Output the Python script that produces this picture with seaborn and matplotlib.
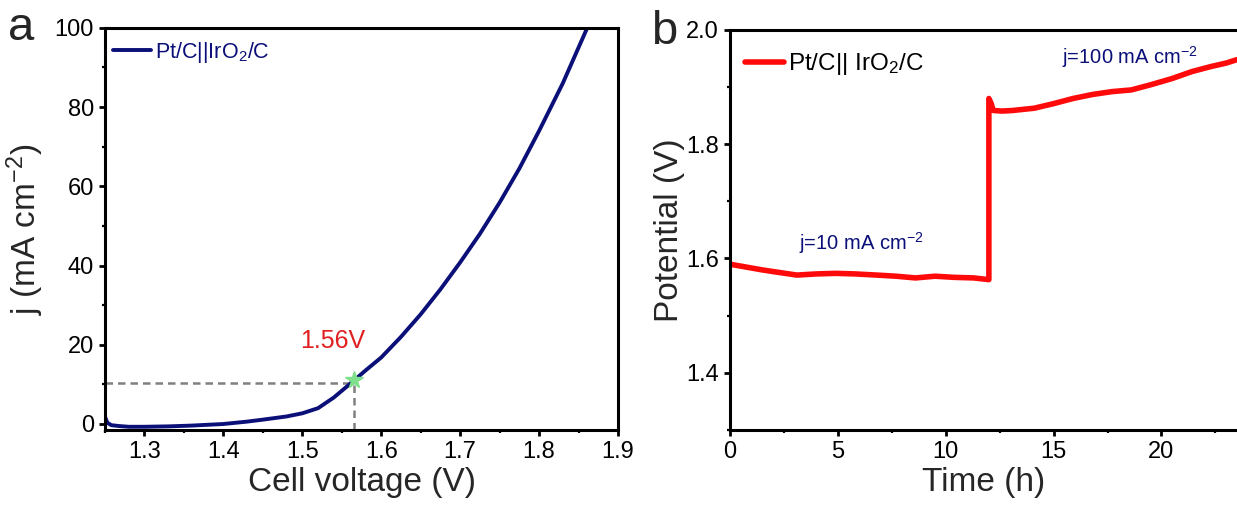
import matplotlib
matplotlib.use("Agg")
import matplotlib.pyplot as plt
import seaborn as sns
import pandas as pd
from matplotlib.ticker import MultipleLocator, FormatStrFormatter

# Polarization curve of the two-electrode cell (voltage in V, current density in mA cm^-2)
cell_voltage = [1.250, 1.253, 1.258, 1.267, 1.28, 1.30, 1.33, 1.36, 1.40, 1.43, 1.45, 1.48,
                1.50, 1.52, 1.54, 1.565, 1.58, 1.60, 1.625, 1.65, 1.675, 1.70, 1.725, 1.75,
                1.775, 1.80, 1.83, 1.861]
current_density = [1.8, 0.3, -0.3, -0.5, -0.7, -0.7, -0.6, -0.4, 0.0, 0.6, 1.1, 1.9,
                   2.7, 4.0, 6.7, 10.9, 13.5, 16.8, 22.0, 27.7, 34.0, 40.8, 48.0, 55.9,
                   64.5, 74.0, 86.0, 100.0]

# Marked operating point at 10 mA cm^-2
onset_voltage = 1.565
onset_current = 10.3
onset_label = "1.56V"

# Chronopotentiometry at 10 and 100 mA cm^-2 (time in h, potential in V)
time_h = [0.0, 0.3, 0.9, 1.5, 2.2, 3.1, 4.0, 4.9, 5.8, 6.8, 7.7, 8.6, 9.5, 10.4, 11.3, 12.0,
          12.0, 12.1, 12.2, 12.6, 13.1, 14.1, 15.0, 15.9, 16.8, 17.7, 18.6, 19.5, 20.5,
          21.4, 22.3, 23.0, 23.5]
potential_v = [1.590, 1.588, 1.584, 1.580, 1.576, 1.571, 1.573, 1.574, 1.573, 1.571, 1.569,
               1.566, 1.569, 1.567, 1.566, 1.563,
               1.880, 1.872, 1.859, 1.858, 1.859, 1.863, 1.871, 1.880, 1.887, 1.892, 1.895,
               1.904, 1.915, 1.927, 1.936, 1.942, 1.948]

series_a = "Pt/C||IrO$_2$/C"
series_b = "Pt/C|| IrO$_2$/C"
note_low = "j=10 mA cm$^{-2}$"
note_high = "j=100 mA cm$^{-2}$"

navy = "#0b0f78"
red = "#ff0a0a"

sns.set_theme(style="ticks")
plt.rcParams["font.family"] = ["Liberation Sans", "DejaVu Sans"]
plt.rcParams["mathtext.fontset"] = "custom"
plt.rcParams["mathtext.rm"] = "Liberation Sans"
plt.rcParams["mathtext.it"] = "Liberation Sans:italic"
plt.rcParams["mathtext.bf"] = "Liberation Sans:bold"
plt.rcParams["axes.linewidth"] = 2.2
plt.rcParams["axes.edgecolor"] = "black"

fig = plt.figure(figsize=(12.37, 5.07), dpi=100)
ax_a = fig.add_axes([0.0849, 0.152, 0.4147, 0.793])
ax_b = fig.add_axes([0.5901, 0.152, 0.4099, 0.789])

df_a = pd.DataFrame({"V": cell_voltage, "j": current_density, "s": series_a})
df_b = pd.DataFrame({"t": time_h, "E": potential_v, "s": series_b})

# ---- panel a: polarization curve ----
sns.lineplot(data=df_a, x="V", y="j", hue="s", palette=[navy], lw=2.8,
             estimator=None, sort=False, ax=ax_a)
ax_a.plot([1.25, onset_voltage], [onset_current, onset_current], ls=(0, (3, 2)),
          color="#808080", lw=1.8, zorder=1)
ax_a.plot([onset_voltage, onset_voltage], [-1.5, onset_current], ls=(0, (3, 2)),
          color="#808080", lw=1.8, zorder=1)
ax_a.plot([onset_voltage], [onset_current + 0.8], marker="*", ms=13, color="#7ee08a",
          mec="#7ee08a", zorder=3)
ax_a.text(1.538, 21, onset_label, color="#e02020", fontsize=18, ha="center", va="center")

ax_a.set_xlim(1.25, 1.9)
ax_a.set_ylim(-1.5, 100)
ax_a.xaxis.set_major_locator(MultipleLocator(0.1))
ax_a.xaxis.set_minor_locator(MultipleLocator(0.05))
ax_a.yaxis.set_major_locator(MultipleLocator(20))
ax_a.yaxis.set_minor_locator(MultipleLocator(10))
ax_a.set_xlabel("Cell voltage (V)", fontsize=24, labelpad=3)
ax_a.set_ylabel("j (mA cm$^{-2}$)", fontsize=24, labelpad=6)
leg_a = ax_a.legend(loc="center left", bbox_to_anchor=(0.015, 0.94), frameon=False,
                    fontsize=15.5, handlelength=1.8, handletextpad=0.15,
                    borderpad=0, borderaxespad=0)
for t in leg_a.get_texts():
    t.set_color(navy)
ax_a.text(-0.19, 1.0, "a", transform=ax_a.transAxes, fontsize=34, va="center", ha="left")

# ---- panel b: stability test ----
sns.lineplot(data=df_b, x="t", y="E", hue="s", palette=[red], lw=4.0,
             estimator=None, sort=False, ax=ax_b)
ax_b.text(3.2, 1.627, note_low, color=navy, fontsize=14.5, ha="left", va="center")
ax_b.text(15.4, 1.952, note_high, color=navy, fontsize=14.5, ha="left", va="center")

ax_b.set_xlim(0, 23.5)
ax_b.set_ylim(1.3, 2.0)
ax_b.xaxis.set_major_locator(MultipleLocator(5))
ax_b.xaxis.set_minor_locator(MultipleLocator(2.5))
ax_b.yaxis.set_major_locator(MultipleLocator(0.2))
ax_b.yaxis.set_minor_locator(MultipleLocator(0.1))
ax_b.yaxis.set_major_formatter(FormatStrFormatter("%.1f"))
ax_b.set_xlabel("Time (h)", fontsize=24, labelpad=3)
ax_b.set_ylabel("Potential (V)", fontsize=24, labelpad=1)
ax_b.spines["right"].set_visible(False)
leg_b = ax_b.legend(loc="center left", bbox_to_anchor=(0.03, 0.914), frameon=False,
                    fontsize=17.5, handlelength=1.6, handletextpad=0.15,
                    borderpad=0, borderaxespad=0)
for t in leg_b.get_texts():
    t.set_color("black")
ax_b.text(-0.155, 0.995, "b", transform=ax_b.transAxes, fontsize=34, va="center", ha="left")

for ax in (ax_a, ax_b):
    ax.tick_params(which="major", direction="out", length=4, width=2.0, labelsize=17,
                   pad=4, color="black", labelcolor="black")
    ax.tick_params(which="minor", direction="out", length=2.5, width=1.6, color="black")
    ax.grid(False)

fig.savefig("out.png", dpi=100)
